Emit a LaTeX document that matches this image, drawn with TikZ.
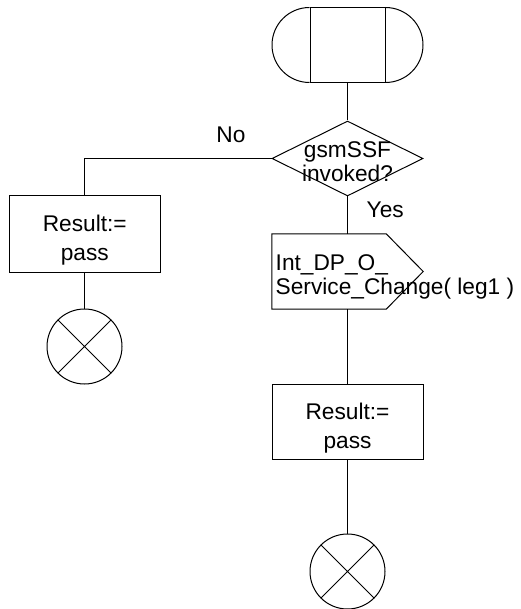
\documentclass[tikz,border=0pt]{standalone}
\usepackage{fontspec}
\setmainfont{Liberation Sans}
\usetikzlibrary{shapes.geometric}
\newcommand\twolines[4]{{\fontsize{22.7}{#2}\selectfont\begin{tabular}[t]{@{}#1@{}}#3\\#4\end{tabular}}}
\tikzset{
  ln/.style={draw=black, line width=1pt},
  boxnode/.style={ln, rectangle, minimum width=151, minimum height=75, inner sep=0},
  decnode/.style={ln, diamond, minimum width=151, minimum height=75, inner sep=0},
  stopnode/.style={ln, circle, minimum size=75, inner sep=0},
  lbl/.style={inner sep=0, font=\fontsize{22.7}{25}\selectfont},
}
\begin{document}
\begin{tikzpicture}[x=1pt,y=-1pt]
\useasboundingbox (0,0) rectangle (520,609);
% start terminal
\node[boxnode, minimum width=75] (start) at (347.5,45.5) {};
\draw[ln] (start.north west) arc[start angle=270, end angle=90, radius=37.5];
\draw[ln] (start.north east) arc[start angle=-90, end angle=90, radius=37.5];
% decision
\node[decnode] (dec) at (347.5,158.5) {};
\node[lbl, anchor=base] (dectext) at (347.5,158) {\twolines{c}{24}{gsmSSF}{invoked?}};
% signal output
\node[inner sep=0, minimum width=151, minimum height=75] (sig) at (347.5,271.5) {};
\draw[ln] (sig.north west) -- ([xshift=-37pt]sig.north east) -- (sig.east) -- ([xshift=-37pt]sig.south east) -- (sig.south west) -- cycle;
\node[lbl, anchor=base west] (sigtext) at (275.5,270) {\twolines{l}{24.5}{Int\_DP\_O\_}{Service\_Change( leg1 )}};
% result boxes
\node[boxnode, minimum height=76] (res1) at (84.5,234) {};
\node[lbl, anchor=base] (res1text) at (84.8,231.5) {\twolines{c}{28.5}{Result:=}{pass}};
\node[boxnode] (res2) at (347.5,421.5) {};
\node[lbl, anchor=base] (res2text) at (347.5,419.5) {\twolines{c}{28.5}{Result:=}{pass}};
% stops
\node[stopnode] (stop1) at (84.5,346.5) {};
\draw[ln] (stop1.north west) -- (stop1.south east) (stop1.north east) -- (stop1.south west);
\node[stopnode] (stop2) at (347.5,571.5) {};
\draw[ln] (stop2.north west) -- (stop2.south east) (stop2.north east) -- (stop2.south west);
% connectors
\draw[ln] (start.south) -- (dec.north);
\draw[ln] (dec.south) -- (sig.north);
\draw[ln] (sig.south) -- (res2.north);
\draw[ln] (res2.south) -- (stop2.north);
\draw[ln] (dec.west) -| (res1.north);
\draw[ln] (res1.south) -- (stop1.north);
% labels
\node[lbl, anchor=base] (no) at (231,143) {No};
\node[lbl, anchor=base west] (yes) at (366.5,218) {Yes};
\end{tikzpicture}
\end{document}
